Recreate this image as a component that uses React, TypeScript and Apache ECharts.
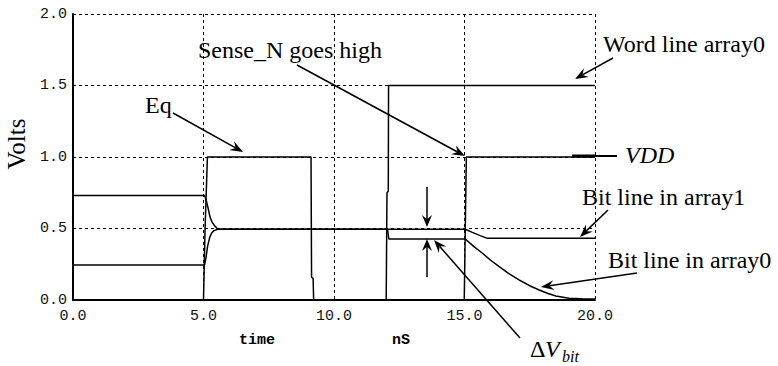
import React, { useEffect, useRef } from "react";
import * as echarts from "echarts";

// ---- data (time in nS, volts) ----
const eqT = [0, 5.0, 5.06, 5.15, 9.12, 9.14, 9.2, 9.22, 20];
const eqV = [0, 0, 0.5, 1.0, 1.0, 0.16, 0.15, 0, 0];

const wordT = [0, 12.0, 12.03, 12.08, 12.09, 20];
const wordV = [0, 0, 0.75, 0.76, 1.5, 1.5];

const senseT = [0, 14.99, 15.07, 20];
const senseV = [0, 0, 1.0, 1.0];

const bit1T = [0, 5.04, 5.1, 5.18, 5.25, 5.33, 5.42, 5.55, 15.03, 15.3, 15.6, 15.88, 20];
const bit1V = [0.73, 0.73, 0.7, 0.64, 0.58, 0.545, 0.52, 0.495, 0.495, 0.473, 0.45, 0.431, 0.431];

const bit0T = [0, 5.04, 5.1, 5.15, 5.24, 5.32, 5.4, 5.55, 12.05, 12.1, 15.03, 15.35, 15.69, 16.0, 16.33, 16.7, 17.09, 17.5, 17.86, 18.2, 18.5, 19.0, 19.5, 20];
const bit0V = [0.245, 0.245, 0.3, 0.37, 0.44, 0.47, 0.485, 0.495, 0.495, 0.427, 0.427, 0.375, 0.327, 0.278, 0.233, 0.185, 0.14, 0.1, 0.07, 0.045, 0.028, 0.012, 0.009, 0.007];

const xTicks = { min: 0, max: 20, interval: 5 };
const yTicks = { min: 0, max: 2, interval: 0.5 };

const zip = (t: number[], v: number[]) => t.map((x, i) => [x, v[i]]);

const SERIF = "'Liberation Serif', 'Times New Roman', serif";
const MONO = "'Liberation Mono', 'Courier New', monospace";

function arrow(x1: number, y1: number, x2: number, y2: number, L = 13, W = 5): any[] {
  const dx = x2 - x1, dy = y2 - y1;
  const len = Math.hypot(dx, dy);
  const ux = dx / len, uy = dy / len;
  const px = -uy, py = ux;
  const bx = x2 - ux * L, by = y2 - uy * L;
  const nx = x2 - ux * L * 0.65, ny = y2 - uy * L * 0.65;
  return [
    {
      type: "line",
      silent: true,
      shape: { x1, y1, x2: nx, y2: ny },
      style: { stroke: "#000", lineWidth: 1.5 },
    },
    {
      type: "polygon",
      silent: true,
      shape: {
        points: [
          [x2, y2],
          [bx + px * W, by + py * W],
          [nx, ny],
          [bx - px * W, by - py * W],
        ],
      },
      style: { fill: "#000" },
    },
  ];
}

function txt(text: string, x: number, y: number, font: string, extra: any = {}): any {
  return {
    type: "text",
    silent: true,
    x,
    y,
    ...extra,
    style: {
      text,
      font,
      fill: "#000",
      align: extra.align || "left",
      textAlign: extra.align || "left",
      verticalAlign: "middle",
      textVerticalAlign: "middle",
    },
  };
}

export default function App() {
  const ref = useRef<HTMLDivElement>(null);
  useEffect(() => {
    document.body.style.margin = "0";
    const chart = echarts.init(ref.current!, null, { renderer: "svg" });
    const lineSeries = (name: string, t: number[], v: number[]) => ({
      name,
      type: "line",
      data: zip(t, v),
      showSymbol: false,
      symbol: "none",
      lineStyle: { color: "#000", width: 1.5 },
      itemStyle: { color: "#000" },
      z: 3,
    });
    const graphics: any[] = [
      txt("Volts", 16, 144, `25px ${SERIF}`, { rotation: Math.PI / 2, align: "center" }),
      txt("time", 257, 340, `bold 15px ${MONO}`, { align: "center" }),
      txt("nS", 401, 340, `bold 15px ${MONO}`, { align: "center" }),
      txt("Eq", 145, 105, `24px ${SERIF}`),
      txt("Sense_N goes high", 198, 50, `24px ${SERIF}`),
      txt("Word line array0", 603, 44, `24px ${SERIF}`),
      txt("VDD", 625, 155, `italic 24px ${SERIF}`),
      txt("Bit line in array1", 582, 197, `24px ${SERIF}`),
      txt("Bit line in array0", 608, 260, `24px ${SERIF}`),
      txt("Δ", 530, 349, `24px ${SERIF}`),
      txt("V", 545, 349, `italic 24px ${SERIF}`),
      txt("bit", 562, 356, `italic 16px ${SERIF}`),
      {
        type: "line",
        silent: true,
        shape: { x1: 572, y1: 156, x2: 617, y2: 156 },
        style: { stroke: "#000", lineWidth: 2 },
      },
      {
        type: "line",
        silent: true,
        shape: { x1: 572, y1: 156, x2: 595, y2: 156 },
        style: { stroke: "#000", lineWidth: 3 },
      },
      ...arrow(173, 113, 243, 152),
      ...arrow(297, 65, 465, 156),
      ...arrow(613, 58, 575, 79),
      ...arrow(608, 210, 580, 237),
      ...arrow(637, 273, 541, 287),
      ...arrow(427, 187, 427, 227, 12, 5),
      ...arrow(427, 277, 427, 239, 12, 5),
      ...arrow(520, 338, 434, 240, 13, 5),
    ];
    chart.setOption({
      animation: false,
      backgroundColor: "#fff",
      grid: { left: 73, right: 183, top: 14, bottom: 66, containLabel: false },
      xAxis: {
        type: "value",
        min: xTicks.min,
        max: xTicks.max,
        interval: xTicks.interval,
        axisLine: { show: true, lineStyle: { color: "#000", width: 2 } },
        axisTick: { show: false },
        axisLabel: {
          formatter: (v: number) => v.toFixed(1),
          fontFamily: MONO,
          fontSize: 15,
          color: "#111",
          margin: 9,
        },
        splitLine: { show: true, lineStyle: { color: "#000", width: 1, type: [3, 3] } },
      },
      yAxis: {
        type: "value",
        min: yTicks.min,
        max: yTicks.max,
        interval: yTicks.interval,
        axisLine: { show: true, lineStyle: { color: "#000", width: 2 } },
        axisTick: { show: false },
        axisLabel: {
          formatter: (v: number) => v.toFixed(1),
          fontFamily: MONO,
          fontSize: 15,
          color: "#111",
          margin: 6,
        },
        splitLine: { show: true, lineStyle: { color: "#000", width: 1, type: [3, 3] } },
      },
      series: [
        lineSeries("Eq", eqT, eqV),
        lineSeries("Word line array0", wordT, wordV),
        lineSeries("Sense_N", senseT, senseV),
        lineSeries("Bit line in array1", bit1T, bit1V),
        lineSeries("Bit line in array0", bit0T, bit0V),
      ],
      graphic: graphics,
    });
    return () => chart.dispose();
  }, []);
  return <div ref={ref} style={{ width: 778, height: 366 }} />;
}
